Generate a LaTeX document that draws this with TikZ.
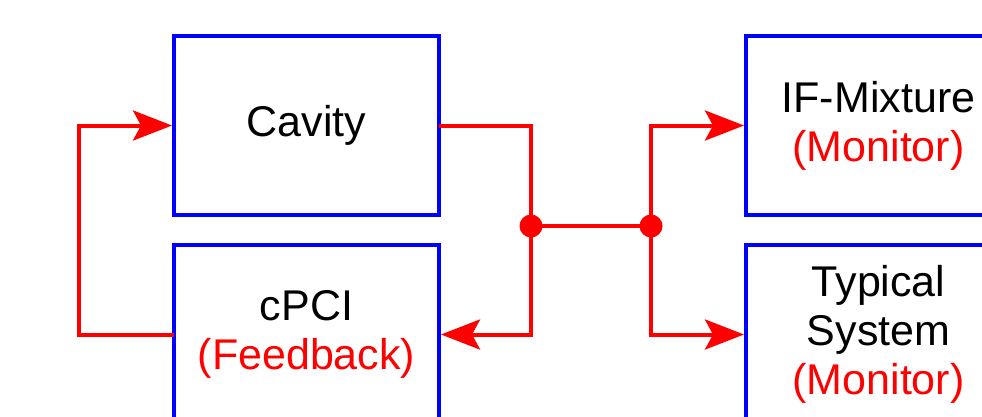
\documentclass[tikz,border=0pt]{standalone}
\usepackage{fontspec}
\setmainfont{Liberation Sans}
\usepackage{xcolor}
\usetikzlibrary{arrows.meta,positioning}

\begin{document}
\begin{tikzpicture}[
    x=1pt, y=1pt,
    box/.style={rectangle, draw=blue, line width=4pt, outer sep=0pt, minimum width=265pt, minimum height=179pt, align=center, font=\fontsize{43}{49}\selectfont},
    arrow/.style={-{Stealth[length=39pt, width=30pt, inset=8pt]}, red, line width=4pt, shorten >=2pt},
    link/.style={red, line width=4pt},
    dot/.style={circle, fill=red, inner sep=0pt, minimum size=23pt}
]
    \useasboundingbox (0,0) rectangle (982,-416);
    \clip (0,0) rectangle (982,-416);

    % Left column
    \node[box] (cavity) at (306.5,-125.5) {Cavity};
    \node[box, below=30pt of cavity] (cpci) {cPCI\\\textcolor{red}{(Feedback)}};

    % Right column
    \node[box, right=307pt of cavity] (ifmix) {IF-Mixture\\\textcolor{red}{(Monitor)}};
    \node[box, below=30pt of ifmix] (typical) {Typical\\System\\\textcolor{red}{(Monitor)}};

    % Junctions
    \node[dot] (jl) at (531,-226) {};
    \node[dot] (jr) at (651,-226) {};

    % Feedback loop
    \draw[arrow] (cpci.west) -- ++(-95,0) |- (cavity.west);
    \draw[arrow] (cavity.east) -| (jl.center) |- (cpci.east);

    % Monitor branch
    \draw[link] (jl.center) -- (jr.center);
    \draw[arrow] (jr.center) |- (ifmix.west);
    \draw[arrow] (jr.center) |- (typical.west);
\end{tikzpicture}
\end{document}
